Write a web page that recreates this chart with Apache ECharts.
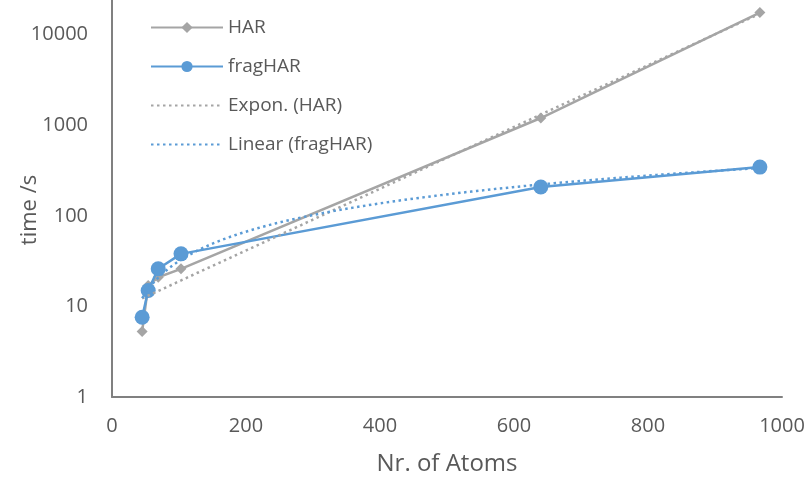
<!DOCTYPE html>
<html>
<head>
<meta charset="utf-8">
<script src="https://cdn.jsdelivr.net/npm/echarts@6/dist/echarts.min.js"></script>
<style>
  html, body { margin: 0; padding: 0; background: #fff; }
  #chart { width: 810px; height: 477px; }
</style>
</head>
<body>
<div id="chart"></div>
<script>
// Calculation time vs. system size
const atoms = [45, 54, 69, 103, 640, 967];
const harTime = [5.3, 17, 21, 26, 1200, 17500];
const fragHarTime = [7.6, 15, 26, 38, 208, 345];
const xTicks = [0, 200, 400, 600, 800, 1000];
const yTicks = [1, 10, 100, 1000, 10000, 100000];

const GRAY = '#A5A5A5';
const BLUE = '#5B9BD5';
const TEXT = '#595959';
const FONT = '"Open Sans", Lato, sans-serif';

// Least-squares fits, as spreadsheet trendlines do
function linearFit(xs, ys) {
  const n = xs.length;
  const mx = xs.reduce((a, b) => a + b, 0) / n;
  const my = ys.reduce((a, b) => a + b, 0) / n;
  let sxx = 0, sxy = 0;
  for (let i = 0; i < n; i++) {
    sxx += (xs[i] - mx) * (xs[i] - mx);
    sxy += (xs[i] - mx) * (ys[i] - my);
  }
  const slope = sxy / sxx;
  return { slope, intercept: my - slope * mx };
}
function expFit(xs, ys) {
  const f = linearFit(xs, ys.map(Math.log));
  return { a: Math.exp(f.intercept), b: f.slope };
}
function trendX(xs, steps) {
  const lo = Math.min(...xs), hi = Math.max(...xs);
  const out = [];
  for (let i = 0; i <= steps; i++) out.push(lo + (hi - lo) * i / steps);
  return out;
}

const ef = expFit(atoms, harTime);
const lf = linearFit(atoms, fragHarTime);
const tx = trendX(atoms, 120);
const expTrend = tx.map(x => [x, ef.a * Math.exp(ef.b * x)]);
const linTrend = tx.map(x => [x, lf.slope * x + lf.intercept]).filter(p => p[1] > 0);

// trendline legend entries show only the dotted stroke
const noMarker = { color: 'rgba(0,0,0,0)', borderColor: 'rgba(0,0,0,0)', borderWidth: 0 };

const chart = echarts.init(document.getElementById('chart'), null, { renderer: 'canvas' });
chart.setOption({
  backgroundColor: '#fff',
  animation: false,
  textStyle: { fontFamily: FONT, color: TEXT },
  grid: { left: 112, right: 28, top: -56, bottom: 80, containLabel: false, outerBoundsMode: 'none' },
  legend: {
    orient: 'vertical',
    left: 145,
    top: 13,
    itemWidth: 72,
    itemHeight: 14,
    itemGap: 20,
    textStyle: { fontFamily: FONT, fontSize: 19, color: TEXT },
    data: [
      { name: 'HAR' },
      { name: 'fragHAR' },
      { name: 'Expon. (HAR)', itemStyle: noMarker },
      { name: 'Linear (fragHAR)', itemStyle: noMarker }
    ]
  },
  // y-axis title, centred on the visible part of the axis
  graphic: [{
    type: 'text',
    x: 30,
    y: 210,
    rotation: Math.PI / 2,
    style: {
      text: 'time /s',
      fontFamily: FONT,
      fontSize: 22,
      fill: TEXT,
      align: 'center',
      verticalAlign: 'middle'
    }
  }],
  xAxis: {
    type: 'value',
    min: xTicks[0],
    max: xTicks[xTicks.length - 1],
    interval: 200,
    name: 'Nr. of Atoms',
    nameLocation: 'middle',
    nameGap: 55,
    nameTextStyle: { fontFamily: FONT, fontSize: 24, color: TEXT },
    axisLine: { show: true, lineStyle: { color: '#808080', width: 2 } },
    axisTick: { show: false },
    splitLine: { show: false },
    axisLabel: { fontFamily: FONT, fontSize: 20, color: TEXT, margin: 19, formatter: v => String(v) }
  },
  yAxis: {
    type: 'log',
    logBase: 10,
    min: yTicks[0],
    max: yTicks[yTicks.length - 1],
    axisLine: { show: true, lineStyle: { color: '#808080', width: 2 } },
    axisTick: { show: false },
    splitLine: { show: false },
    minorSplitLine: { show: false },
    axisLabel: { fontFamily: FONT, fontSize: 20, color: TEXT, margin: 24, formatter: v => String(v) }
  },
  series: [
    {
      name: 'HAR',
      type: 'line',
      data: atoms.map((x, i) => [x, harTime[i]]),
      symbol: 'diamond',
      symbolSize: 11,
      lineStyle: { color: GRAY, width: 2.5 },
      itemStyle: { color: GRAY },
      z: 2
    },
    {
      name: 'fragHAR',
      type: 'line',
      data: atoms.map((x, i) => [x, fragHarTime[i]]),
      symbol: 'circle',
      symbolSize: 15,
      lineStyle: { color: BLUE, width: 2.5 },
      itemStyle: { color: BLUE },
      z: 3
    },
    {
      name: 'Expon. (HAR)',
      type: 'line',
      data: expTrend,
      symbol: 'none',
      lineStyle: { color: GRAY, width: 2.5, type: [2.5, 3.5] },
      itemStyle: { color: GRAY },
      z: 4
    },
    {
      name: 'Linear (fragHAR)',
      type: 'line',
      data: linTrend,
      symbol: 'none',
      lineStyle: { color: BLUE, width: 2.5, type: [2.5, 3.5] },
      itemStyle: { color: BLUE },
      z: 4
    }
  ]
});
</script>
</body>
</html>
